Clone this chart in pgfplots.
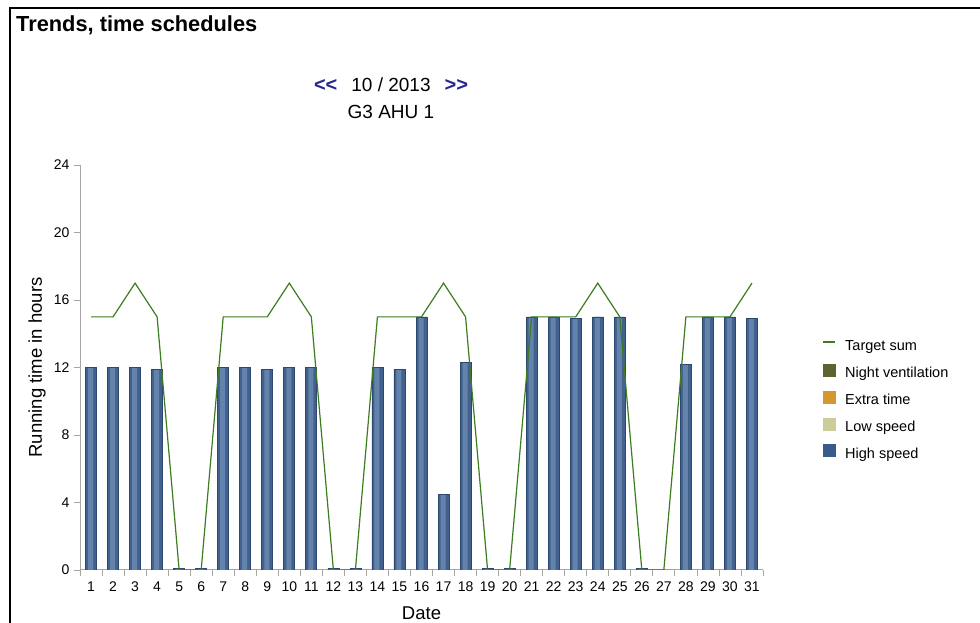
\documentclass[border=0pt]{standalone}
\usepackage{pgfplots}
\usepackage{pgfplotstable}
\pgfplotsset{compat=1.18}
\usepackage{fontspec}
\setmainfont{Liberation Sans}
\definecolor{barA}{RGB}{66,97,140}
\definecolor{barB}{RGB}{100,131,172}
\definecolor{barEdge}{RGB}{45,72,110}
\definecolor{tgt}{RGB}{60,125,30}
\definecolor{nightv}{RGB}{94,99,48}
\definecolor{extrat}{RGB}{212,153,46}
\definecolor{lowsp}{RGB}{203,204,153}
\definecolor{highsp}{RGB}{58,90,138}
\definecolor{navl}{RGB}{38,38,140}
\pgfplotstableread{
day high target
1 12 15
2 12 15
3 12 17
4 11.9 15
5 0.1 0
6 0.1 0
7 12 15
8 12 15
9 11.9 15
10 12 17
11 12 15
12 0.1 0
13 0.1 0
14 12 15
15 11.9 15
16 15 15
17 4.5 17
18 12.3 15
19 0.1 0
20 0.1 0
21 15 15
22 15 15
23 14.9 15
24 15 17
25 15 15
26 0.1 0
27 0 0
28 12.2 15
29 15 15
30 15 15
31 14.9 17
}\datatable
\begin{document}
\begin{tikzpicture}[x=1pt,y=1pt]
\path[use as bounding box] (0,0) rectangle (980,623);
\draw[line width=2pt] (10,0) -- (10,615) -- (980,615);
\node[anchor=base west,font=\fontsize{21.8}{24}\selectfont\bfseries,inner sep=0pt] at (16,591) {Trends, time schedules};
\node[anchor=base,font=\fontsize{19}{22}\selectfont,inner sep=0pt] at (391,531) {\textcolor{navl}{\fontsize{20}{22}\selectfont\textbf{<{}<}}\hspace{14pt}10 / 2013\hspace{14pt}\textcolor{navl}{\fontsize{20}{22}\selectfont\textbf{>{}>}}};
\node[anchor=base,font=\fontsize{19}{22}\selectfont,inner sep=0pt] at (391,504) {G3 AHU 1};
\begin{axis}[
  at={(80pt,53pt)}, anchor=south west,
  scale only axis, width=683pt, height=405pt,
  xmin=0.5, xmax=31.5, ymin=0, ymax=24,
  axis lines=left,
  axis line style={draw=black!35,-,line width=1pt},
  xtick={1,...,31},
  major x tick style={draw=none},
  minor xtick={0.5,1.5,...,31.5},
  minor x tick style={draw=black!35,line width=0.8pt},
  minor tick length=6pt,
  ytick={0,4,...,24},
  major y tick style={draw=black!35,line width=0.8pt},
  major tick length=6pt,
  tick align=outside,
  tick label style={font=\fontsize{14}{16}\selectfont, /pgf/number format/assume math mode=true},
  xticklabel style={yshift=-2pt},
  yticklabel style={xshift=-1pt},
  every axis y label/.style={at={(axis description cs:0,0.5)}, rotate=90, anchor=center, yshift=43pt},
  every axis x label/.style={at={(axis description cs:0.5,0)}, anchor=center, yshift=-43pt},
  label style={font=\fontsize{18.5}{21}\selectfont},
  ylabel={Running time in hours},
  xlabel={Date},
  legend style={at={(axis description cs:1.082,0.573)}, anchor=north west, draw=none, fill=none,
    font=\fontsize{14.5}{17}\selectfont, row sep=10pt,
    nodes={inner sep=0pt, text height=10.5pt, text depth=3pt},
    /tikz/every odd column/.append style={column sep=9pt}},
  legend cell align=left,
]
\addplot[ybar, bar width=11pt, draw=none, fill=barA, forget plot] table[x=day,y=high] {\datatable};
\addplot[ybar, bar width=5pt, bar shift=-0.5pt, draw=none, fill=barB, forget plot] table[x=day,y=high] {\datatable};
\addplot[ybar, bar width=11pt, draw=barEdge, line width=0.7pt, fill=none, forget plot] table[x=day,y=high] {\datatable};
\addplot[tgt, line width=1.2pt, forget plot] table[x=day,y=target] {\datatable};
\addlegendimage{legend image code/.code={\draw[tgt,line width=2pt] (0pt,4.5pt) -- (12pt,4.5pt);}}
\addlegendentry{Target sum}
\addlegendimage{legend image code/.code={\fill[nightv] (0pt,-2pt) rectangle (12pt,10pt);}}
\addlegendentry{Night ventilation}
\addlegendimage{legend image code/.code={\fill[extrat] (0pt,-2pt) rectangle (12pt,10pt);}}
\addlegendentry{Extra time}
\addlegendimage{legend image code/.code={\fill[lowsp] (0pt,-2pt) rectangle (12pt,10pt);}}
\addlegendentry{Low speed}
\addlegendimage{legend image code/.code={\fill[highsp] (0pt,-2pt) rectangle (12pt,10pt);}}
\addlegendentry{High speed}
\end{axis}
\end{tikzpicture}
\end{document}
